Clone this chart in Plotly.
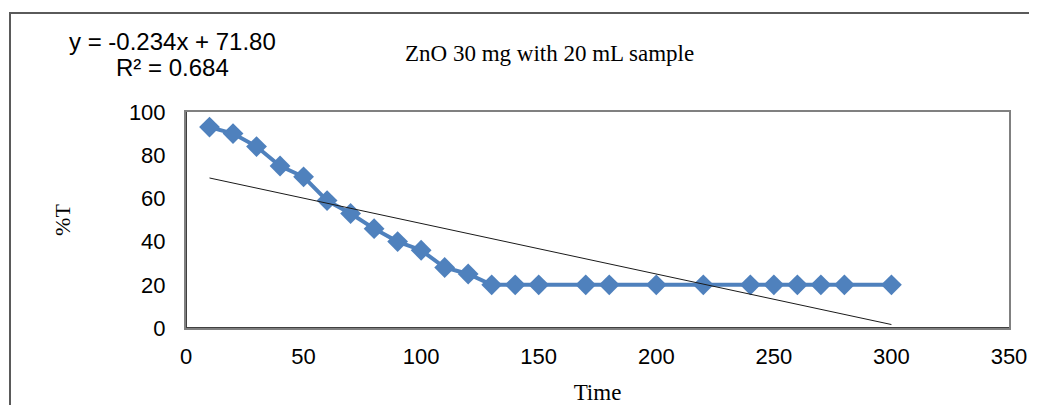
import plotly.graph_objects as go

time = [10, 20, 30, 40, 50, 60, 70, 80, 90, 100, 110, 120, 130, 140, 150,
        170, 180, 200, 220, 240, 250, 260, 270, 280, 300]
pct_t = [93, 90, 84, 75, 70, 59, 53, 46, 40, 36, 28, 25, 20, 20, 20,
         20, 20, 20, 20, 20, 20, 20, 20, 20, 20]
trend_x = [10, 300]
trend_y = [69.46, 1.6]
x_ticks = [0, 50, 100, 150, 200, 250, 300, 350]
y_ticks = [0, 20, 40, 60, 80, 100]

OFF = 8  # page body margin
W, H = 1037 - OFF, 405 - OFF
L, T = 186 - OFF, 112 - OFF
pw, ph = 823, 216
R = W - L - pw
B = H - T - ph

def px(x):  # reference pixel -> paper x
    return (x - OFF - L) / pw

def py(y):  # reference pixel -> paper y
    return (T + ph - (y - OFF)) / ph

fig = go.Figure()
fig.add_trace(go.Scatter(
    x=time, y=pct_t, mode="lines+markers",
    line=dict(color="#4F81BD", width=4),
    marker=dict(symbol="diamond", size=16, color="#4F81BD"),
    showlegend=False, cliponaxis=False))
fig.add_trace(go.Scatter(
    x=trend_x, y=trend_y, mode="lines",
    line=dict(color="#1a1a1a", width=1),
    showlegend=False, cliponaxis=False))

axis_font = dict(family="Liberation Sans, Arial", size=22, color="#000000")
serif = "Liberation Serif, Times New Roman"
fig.update_layout(
    width=W, height=H,
    margin=dict(l=L, r=R, t=T, b=B, pad=0, autoexpand=False),
    paper_bgcolor="white", plot_bgcolor="white",
    xaxis=dict(range=[0, 350], tickvals=x_ticks, showgrid=False, zeroline=False,
               showline=True, linecolor="#808080", linewidth=2, mirror=True,
               ticks="", tickfont=axis_font, ticklabelstandoff=8, automargin=False,
               title=dict(text="Time", font=dict(family=serif, size=23, color="#000"), standoff=15)),
    yaxis=dict(range=[0, 100], tickvals=y_ticks, showgrid=False, zeroline=False,
               showline=True, linecolor="#808080", linewidth=2, mirror=True,
               ticks="", tickfont=axis_font, ticklabelstandoff=14, automargin=False,
               title=dict(text="%T", font=dict(family=serif, size=22, color="#000"), standoff=52)),
    shapes=[
        dict(type="line", xref="x", yref="y", x0=0, x1=0, y0=0, y1=100,
             line=dict(color="#404040", width=2)),
        dict(type="line", xref="x", yref="y", x0=0, x1=350, y0=0, y1=0,
             line=dict(color="#404040", width=2)),
        dict(type="rect", xref="paper", yref="paper",
             x0=px(10), x1=px(1120), y0=py(13), y1=py(440),
             line=dict(color="#5a5a5a", width=2), fillcolor="rgba(0,0,0,0)"),
    ],
    annotations=[
        dict(text="ZnO 30 mg with 20 mL sample", xref="paper", yref="paper",
             x=px(549), y=py(53), showarrow=False, xanchor="center", yanchor="middle",
             font=dict(family=serif, size=23, color="#000")),
        dict(text="y = -0.234x + 71.80", xref="paper", yref="paper",
             x=px(172), y=py(41), showarrow=False, xanchor="center", yanchor="middle",
             font=dict(family="Liberation Sans, Arial", size=24, color="#000")),
        dict(text="R² = 0.684", xref="paper", yref="paper",
             x=px(172), y=py(67), showarrow=False, xanchor="center", yanchor="middle",
             font=dict(family="Liberation Sans, Arial", size=24, color="#000")),
    ],
)

fig.write_html("out.html")
